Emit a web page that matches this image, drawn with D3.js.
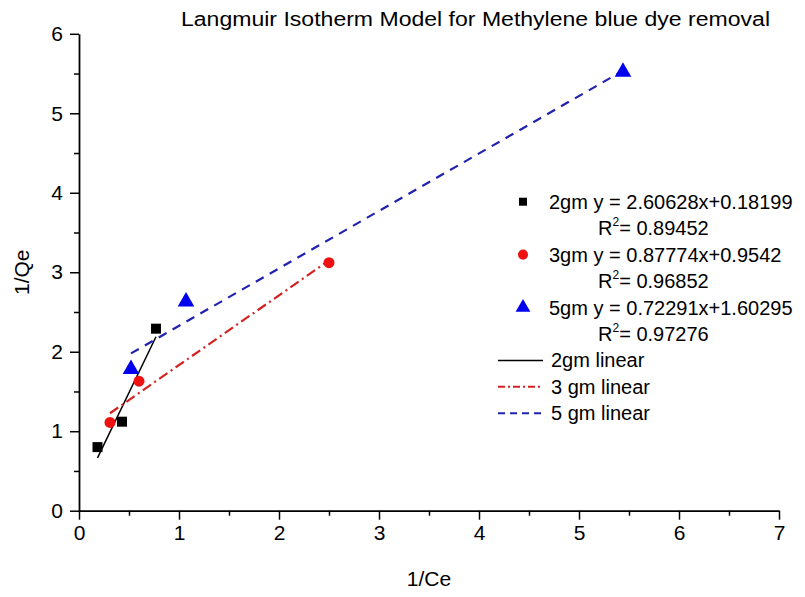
<!DOCTYPE html>
<html>
<head>
<meta charset="utf-8">
<script src="https://cdn.jsdelivr.net/npm/d3@7"></script>
<style>
  html, body { margin: 0; padding: 0; background: #fff; }
  svg { display: block; font-family: "Liberation Sans", Arial, sans-serif; }
</style>
</head>
<body>
<svg id="chart" width="805" height="597"></svg>
<script>
// ---- data ----
const seriesNames = ["2gm", "3gm", "5gm"];
const x2gm = [0.185, 0.43, 0.77];
const y2gm = [0.80, 1.12, 2.29];
const x3gm = [0.31, 0.60, 2.50];
const y3gm = [1.11, 1.63, 3.12];
const x5gm = [0.52, 1.07, 5.44];
const y5gm = [1.78, 2.63, 5.52];
const slopes = [2.60628, 0.87774, 0.72291];
const intercepts = [0.18199, 0.9542, 1.60295];
const r2Values = ["0.89452", "0.96852", "0.97276"];
const equationLabels = ["2gm y = 2.60628x+0.18199", "3gm y = 0.87774x+0.9542", "5gm y = 0.72291x+1.60295"];
const lineLabels = ["2gm linear", "3 gm linear", "5 gm linear"];
const xTicks = [0, 1, 2, 3, 4, 5, 6, 7];
const yTicks = [0, 1, 2, 3, 4, 5, 6];
const xMinorTicks = [0.5, 1.5, 2.5, 3.5, 4.5, 5.5, 6.5];
const yMinorTicks = [0.5, 1.5, 2.5, 3.5, 4.5, 5.5];

// ---- styles ----
const markerColors = ["#000000", "#ee1111", "#0000ee"];
const lineColors = ["#000000", "#d42222", "#2222b0"];
const dashes = [null, "10,4,2,4", "9,7"];
const shapes = [d3.symbolSquare, d3.symbolCircle, d3.symbolTriangle];

const svg = d3.select("#chart");
const x = d3.scaleLinear().domain([0, 7]).range([79, 779]);
const y = d3.scaleLinear().domain([0, 6]).range([510.7, 33.8]);

const series = [
  { xs: x2gm, ys: y2gm },
  { xs: x3gm, ys: y3gm },
  { xs: x5gm, ys: y5gm }
];

// axes
const xAxis = svg.append("g").attr("transform", `translate(0,${y(0)})`)
  .call(d3.axisBottom(x).tickValues(xTicks).tickSize(9).tickSizeOuter(0).tickPadding(5).tickFormat(d3.format("d")));
const xMinor = svg.append("g").attr("transform", `translate(0,${y(0)})`)
  .call(d3.axisBottom(x).tickValues(xMinorTicks).tickSize(5).tickSizeOuter(0).tickFormat(""));
xMinor.select(".domain").remove();

const yAxis = svg.append("g").attr("transform", `translate(${x(0)},0)`)
  .call(d3.axisLeft(y).tickValues(yTicks).tickSize(9).tickSizeOuter(0).tickPadding(7).tickFormat(d3.format("d")));
const yMinor = svg.append("g").attr("transform", `translate(${x(0)},0)`)
  .call(d3.axisLeft(y).tickValues(yMinorTicks).tickSize(5).tickSizeOuter(0).tickFormat(""));
yMinor.select(".domain").remove();

svg.selectAll(".domain").attr("stroke", "#000").attr("stroke-width", 1.8);
svg.selectAll(".tick line").attr("stroke", "#000").attr("stroke-width", 1.5);
svg.selectAll(".tick text").attr("font-size", 21).attr("fill", "#000")
  .attr("font-family", "'Liberation Sans', Arial, sans-serif");

// axis titles
svg.append("text").attr("x", (x(0) + x(7)) / 2).attr("y", 586)
  .attr("text-anchor", "middle").attr("font-size", 21).text("1/Ce");
svg.append("text").attr("transform", `translate(29,${(y(0) + y(6)) / 2}) rotate(-90)`)
  .attr("text-anchor", "middle").attr("font-size", 21).text("1/Qe");

// title
svg.append("text").attr("x", 181).attr("y", 26)
  .attr("font-size", 20).attr("textLength", 589).attr("lengthAdjust", "spacingAndGlyphs")
  .text("Langmuir Isotherm Model for Methylene blue dye removal");

// fit lines
series.forEach((s, i) => {
  const x0 = d3.min(s.xs), x1 = d3.max(s.xs);
  const pts = [[x0, slopes[i] * x0 + intercepts[i]], [x1, slopes[i] * x1 + intercepts[i]]];
  svg.append("path")
    .attr("d", d3.line().x(d => x(d[0])).y(d => y(d[1]))(pts))
    .attr("fill", "none").attr("stroke", lineColors[i])
    .attr("stroke-width", i === 0 ? 1.5 : 2.2)
    .attr("stroke-dasharray", dashes[i]);
});

// markers
const sizes = [100, 95, 120];
series.forEach((s, i) => {
  svg.append("g").selectAll("path").data(s.xs.map((v, k) => [v, s.ys[k]])).join("path")
    .attr("transform", d => `translate(${x(d[0])},${y(d[1])})`)
    .attr("d", d3.symbol().type(shapes[i]).size(sizes[i]))
    .attr("fill", markerColors[i]);
});

// legend
const rowY = d3.range(9).map(k => 201.7 + k * 26.45);
const lg = svg.append("g").attr("font-size", 20);
const legSizes = [64, 80, 95];
seriesNames.forEach((n, i) => {
  const yy = rowY[i * 2];
  lg.append("path").attr("transform", `translate(523,${yy})`)
    .attr("d", d3.symbol().type(shapes[i]).size(legSizes[i])).attr("fill", markerColors[i]);
  lg.append("text").attr("x", 549).attr("y", yy + 7).text(equationLabels[i]);
  const t = lg.append("text").attr("x", 598).attr("y", rowY[i * 2 + 1] + 7);
  t.append("tspan").text("R");
  t.append("tspan").attr("font-size", 12).attr("dy", -9).text("2");
  t.append("tspan").attr("dy", 9).text("= " + r2Values[i]);
});
lineLabels.forEach((n, i) => {
  const yy = rowY[6 + i];
  lg.append("line").attr("x1", 498).attr("x2", 543).attr("y1", yy).attr("y2", yy)
    .attr("stroke", lineColors[i]).attr("stroke-width", i === 0 ? 1.5 : 2)
    .attr("stroke-dasharray", i === 0 ? null : (i === 1 ? "7,3,2,3" : "7,5"));
  lg.append("text").attr("x", 551).attr("y", yy + 7).text(n);
});
</script>
</body>
</html>
